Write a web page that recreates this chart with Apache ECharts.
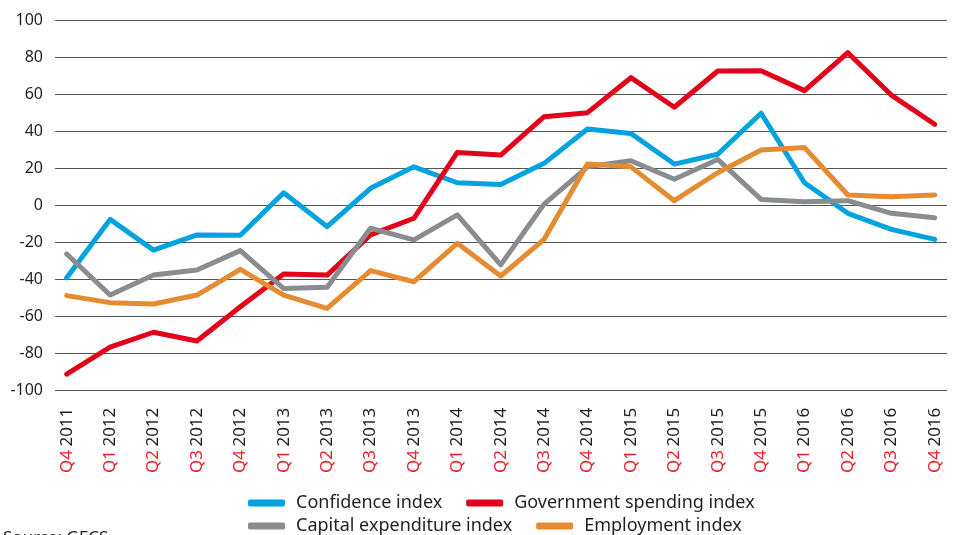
<!DOCTYPE html>
<html>
<head>
<meta charset="utf-8">
<script src="https://cdn.jsdelivr.net/npm/echarts@6/dist/echarts.min.js"></script>
<style>html,body{margin:0;padding:0;background:#fff}#c{width:960px;height:535px}</style>
</head>
<body>
<div id="c"></div>
<script>
const quarters = ['Q4','Q1','Q2','Q3','Q4','Q1','Q2','Q3','Q4','Q1','Q2','Q3','Q4','Q1','Q2','Q3','Q4','Q1','Q2','Q3','Q4'];
const years = ['2011','2012','2012','2012','2012','2013','2013','2013','2013','2014','2014','2014','2014','2015','2015','2015','2015','2016','2016','2016','2016'];
const categories = quarters.map((q, i) => q + ' ' + years[i]);

const confidence = [-39, -7.4, -24, -15.8, -16, 7, -11.3, 9.4, 21, 12.4, 11.5, 22.9, 41.5, 39, 22.5, 27.8, 50, 12.4, -4.1, -12.8, -18.2];
const government = [-91, -76.5, -68.4, -73.1, -54.6, -36.9, -37.5, -15.8, -6.8, 28.8, 27.4, 48.1, 50.3, 69.2, 53.2, 72.8, 73, 62.2, 82.7, 59.8, 44];
const capex = [-26.1, -48.3, -37.5, -34.8, -24.3, -44.8, -44.1, -12.2, -18.5, -5, -32, 0.9, 21, 24.3, 14.3, 25, 3.4, 2.2, 2.7, -4.1, -6.5];
const employment = [-48.6, -52.4, -53.1, -48.3, -34.4, -48.3, -55.5, -35.1, -41.1, -20.3, -38, -18.2, 22.5, 21, 2.7, 17.8, 30.1, 31.4, 5.8, 4.9, 5.8];

const seriesNames = ['Confidence index', 'Government spending index', 'Capital expenditure index', 'Employment index'];
const colors = ['#00a3e0', '#e2001a', '#8a8d8f', '#e58b32'];
const yTicks = { min: -100, max: 100, interval: 20 };

const font = '"Noto Sans", sans-serif';
const chart = echarts.init(document.getElementById('c'));

function lineSeries(name, data, color) {
  return {
    name: name, type: 'line', data: data, xAxisIndex: 0, yAxisIndex: 0,
    symbol: 'none', smooth: false,
    lineStyle: { width: 5, color: color, cap: 'round', join: 'round' },
    itemStyle: { color: color },
    emphasis: { disabled: true }
  };
}

const legendCommon = {
  icon: 'roundRect', itemWidth: 37, itemHeight: 7, itemGap: 24,
  orient: 'horizontal', padding: 0,
  textStyle: { fontFamily: font, fontSize: 18, color: '#231f20', padding: [0, 0, 0, 6] }
};

chart.setOption({
  animation: false,
  backgroundColor: '#fff',
  color: colors,
  grid: [
    { left: 66.7, right: 25.3, top: 20.7, height: 370, containLabel: false },
    { left: 55, right: 13, top: 20.7, height: 370, containLabel: false }
  ],
  xAxis: [
    {
      type: 'category', gridIndex: 0, data: categories, boundaryGap: false,
      axisLine: { show: false }, axisTick: { show: false },
      axisLabel: {
        rotate: 90, margin: 17, interval: 0,
        formatter: (v, i) => '{q|' + quarters[i] + '} {y|' + years[i] + '}',
        rich: {
          q: { fontFamily: font, fontSize: 17, color: '#e8202a' },
          y: { fontFamily: font, fontSize: 17, color: '#231f20' }
        }
      }
    },
    { type: 'value', gridIndex: 1, show: false, min: 0, max: 1 }
  ],
  yAxis: [
    { type: 'value', gridIndex: 0, min: yTicks.min, max: yTicks.max, interval: yTicks.interval, show: false },
    {
      type: 'value', gridIndex: 1, min: yTicks.min, max: yTicks.max, interval: yTicks.interval,
      axisLine: { show: false }, axisTick: { show: false },
      axisLabel: { margin: 12, fontFamily: font, fontSize: 16, color: '#231f20' },
      splitLine: { show: true, lineStyle: { color: '#555555', width: 1.2 } }
    }
  ],
  legend: [
    Object.assign({}, legendCommon, { left: 248, top: 494, data: [seriesNames[0], seriesNames[1]] }),
    Object.assign({}, legendCommon, { left: 248, top: 517, data: [seriesNames[2], seriesNames[3]] })
  ],
  graphic: [
    { type: 'text', left: 3, top: 530, style: { text: 'Source: GECS', fontFamily: font, fontSize: 17, fill: '#231f20' } }
  ],
  series: [
    lineSeries(seriesNames[0], confidence, colors[0]),
    lineSeries(seriesNames[1], government, colors[1]),
    lineSeries(seriesNames[2], capex, colors[2]),
    lineSeries(seriesNames[3], employment, colors[3])
  ]
});
</script>
</body>
</html>
